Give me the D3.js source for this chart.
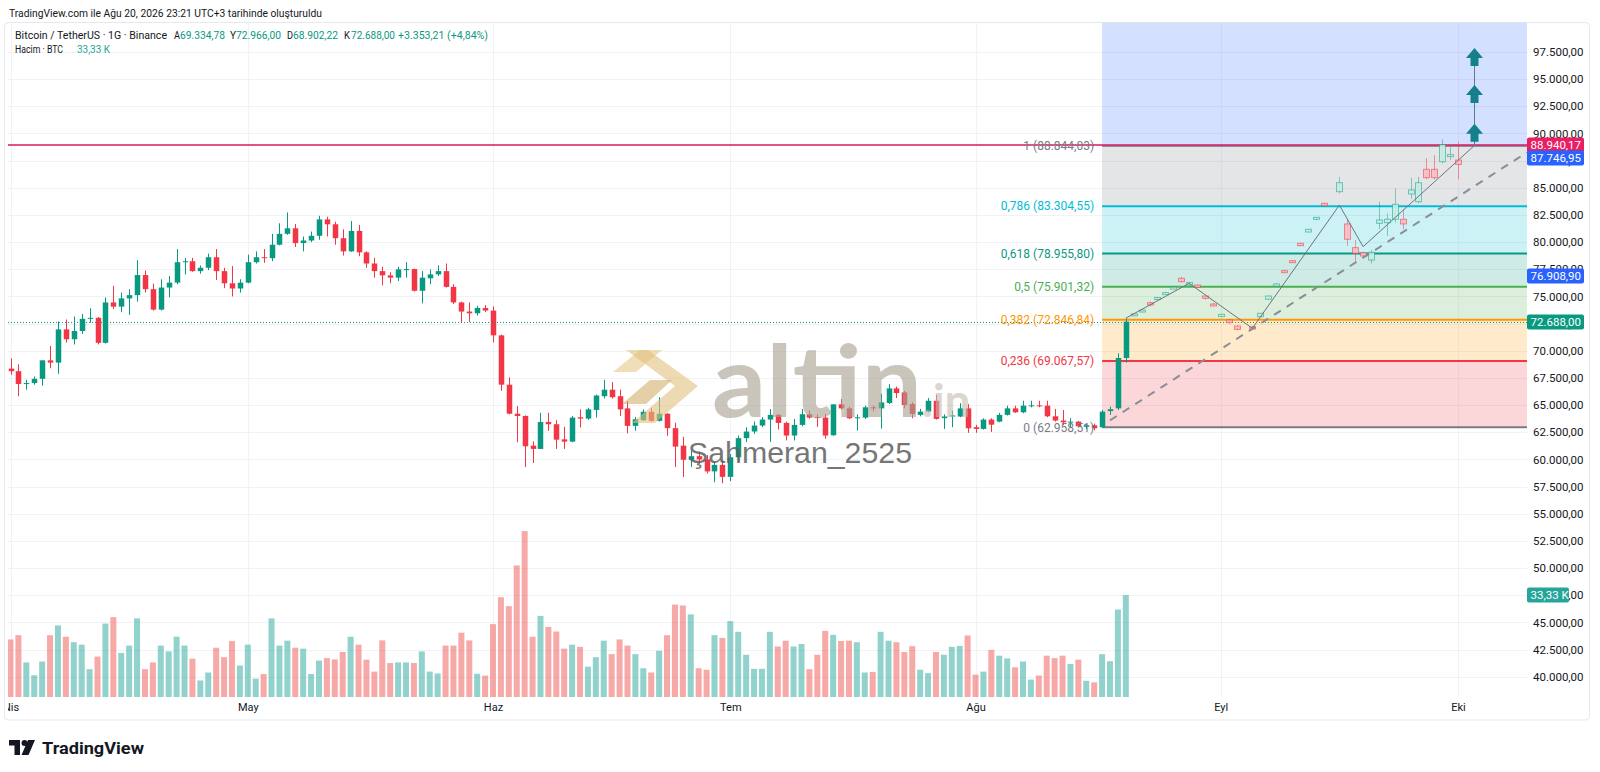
<!DOCTYPE html>
<html>
<head>
<meta charset="utf-8">
<script src="https://cdn.jsdelivr.net/npm/d3@7"></script>
<style>
  body { margin: 0; background: #fff; }
  svg { display: block; font-family: Roboto, "Liberation Sans", sans-serif; }
</style>
</head>
<body>
<svg id="root" width="1600" height="772"></svg>
<script>
// BTC/USDT daily, first candle 1 Nisan 2026 -> [open, high, low, close]
const firstDay = "2026-04-01";
const ohlc = [
  [68360, 69300, 67790, 68120], [68120, 68760, 65820, 66940], [66940, 67330, 66420, 67030], [67030, 67640, 66880, 67420],
  [67420, 69120, 66790, 69120], [69120, 70450, 68390, 68910], [68910, 72700, 67880, 71970], [71970, 72880, 70760, 71060],
  [71060, 73150, 70580, 71820], [71820, 73390, 71550, 72940], [72940, 73910, 72580, 73030], [73030, 73100, 70580, 70730],
  [70730, 74910, 70670, 74450], [74450, 75970, 73850, 74060], [74060, 75360, 73550, 74820], [74820, 75670, 73300, 75120],
  [75120, 78330, 74520, 76970], [76970, 77390, 75360, 75670], [75670, 76180, 73700, 73790], [73790, 76580, 73700, 75820],
  [75820, 76880, 74910, 76270], [76270, 79360, 76120, 78150], [78150, 78550, 77030, 78240], [78240, 78550, 77270, 77330],
  [77330, 77850, 77090, 77640], [77640, 78940, 77420, 78610], [78610, 79360, 76520, 77330], [77330, 77640, 75760, 76210],
  [76210, 77790, 75000, 75730], [75730, 76580, 75360, 76270], [76270, 78850, 76210, 78150], [78150, 79150, 78030, 78610],
  [78610, 79360, 78090, 78520], [78520, 80760, 78240, 79760], [79760, 81730, 79700, 80760], [80760, 82730, 80670, 81270],
  [81270, 81670, 79550, 79910], [79910, 80520, 79150, 80150], [80150, 80970, 80000, 80580], [80580, 82420, 80210, 82090],
  [82090, 82330, 80520, 81640], [81640, 81880, 79760, 80360], [80360, 81180, 78760, 79150], [79150, 81940, 79100, 81030],
  [81030, 81580, 78700, 79060], [79060, 79150, 77640, 78030], [78030, 78550, 76730, 77330], [77330, 77730, 76030, 76940],
  [76940, 77240, 76210, 76730], [76730, 77730, 76420, 77490], [77420, 78150, 76730, 77520], [77520, 77560, 75450, 75520],
  [75520, 77330, 74360, 76730], [76670, 77490, 76120, 77030], [77030, 77850, 76880, 77330], [77330, 78030, 75820, 75880],
  [75880, 76120, 74300, 74450], [74450, 74520, 72640, 73610], [73610, 74450, 72640, 73450], [73450, 74150, 73240, 73940],
  [73940, 74210, 73550, 73700], [73700, 74090, 70760, 71420], [71420, 71500, 66330, 66880], [66880, 67550, 64150, 64210],
  [64210, 64910, 61580, 64000], [64000, 64060, 59300, 61210], [61270, 61670, 59670, 60970], [60970, 64300, 60970, 63450],
  [63450, 64300, 62640, 63240], [63240, 63610, 60970, 61820], [61850, 63000, 60970, 61640], [61640, 64000, 61580, 63850],
  [63880, 64610, 62940, 63760], [63760, 64760, 63640, 64610], [64550, 65970, 63850, 65880], [65820, 67330, 65610, 66420],
  [66420, 67120, 65610, 65730], [65820, 66420, 64000, 64610], [64700, 65360, 62390, 63090], [63090, 63910, 62640, 63700],
  [63610, 64610, 63550, 64390], [64390, 64760, 63490, 63550], [63550, 65730, 63490, 64210], [64210, 64260, 62180, 62880],
  [62880, 63390, 59300, 61180], [61270, 62090, 58390, 59970], [59970, 60800, 59300, 60300], [60300, 60700, 59600, 60000],
  [60000, 60400, 58700, 58900], [58900, 59800, 57900, 59500], [59500, 59900, 57800, 58400], [58400, 60500, 58000, 60200],
  [60200, 62200, 59800, 61960], [61960, 62970, 61600, 62570], [62570, 63500, 62350, 63120], [63120, 63900, 62970, 63670],
  [63670, 64630, 61620, 64100], [64100, 64200, 62750, 63360], [63360, 63480, 61750, 62200], [62200, 63720, 61750, 63180],
  [63180, 64640, 63050, 64160], [64160, 64490, 63750, 63850], [63900, 64150, 63000, 63820], [63850, 64190, 61900, 62200],
  [62230, 65070, 62170, 65070], [65070, 65560, 64580, 64700], [64700, 64850, 63730, 63790], [63790, 64150, 62660, 63880],
  [63850, 64950, 63730, 64800], [64800, 64950, 64420, 64700], [64700, 66050, 62840, 65250], [65200, 66930, 65100, 66540],
  [66540, 66720, 65650, 66110], [66170, 66320, 64710, 65010], [65100, 65250, 63790, 64190], [64100, 64650, 63970, 64400],
  [64400, 65650, 64340, 65400], [65400, 65950, 63670, 63730], [63800, 64150, 62810, 63950], [63950, 64500, 62970, 64050],
  [63950, 65180, 63880, 64700], [64700, 65090, 62450, 62870], [62970, 63180, 62450, 62810], [62810, 63790, 62750, 63670],
  [63670, 63790, 62530, 63200], [63480, 64280, 63420, 64100], [64100, 64950, 64040, 64700], [64700, 64950, 64280, 64340],
  [64340, 65400, 64250, 64950], [64950, 65400, 64790, 64980], [64980, 65400, 64800, 64950], [64950, 65400, 63880, 63970],
  [63970, 64650, 63490, 63580], [63580, 64550, 63180, 63420], [63420, 63790, 62970, 63480], [63480, 63550, 62970, 63060],
  [63000, 63300, 62800, 63150], [63150, 63300, 62700, 62870], [62960, 64550, 62900, 64400], [64450, 64860, 64100, 64620],
  [64700, 69770, 64550, 69334.79], [69334.78, 72966.00, 68902.22, 72688.00]
];

// volume, thousands of BTC
const volumes = [
  18.8, 20.2, 11.3, 7.1, 11.6, 20.2, 23.4, 19.7, 17.9, 17.1, 9.1, 13.2, 24.0, 26.1, 14.4, 16.8, 25.7, 9.1, 11.3, 16.8,
  14.9, 19.7, 16.8, 12.5, 5.4, 8.0, 16.1, 13.0, 18.3, 10.3, 17.1, 6.0, 7.5, 25.7, 16.8, 18.4, 16.1, 15.8, 7.5, 11.9,
  12.7, 12.3, 14.7, 19.7, 17.1, 12.2, 8.3, 18.5, 11.1, 11.3, 11.3, 11.1, 14.9, 8.3, 7.7, 16.8, 16.8, 21.0, 18.5, 7.6,
  7.0, 23.8, 32.6, 29.7, 43.0, 54.2, 19.7, 26.5, 22.9, 21.4, 15.8, 17.1, 16.4, 9.9, 13.0, 18.4, 14.0, 18.8, 16.8, 14.0,
  9.4, 8.0, 15.1, 20.2, 30.2, 29.9, 27.0, 9.4, 8.9, 20.2, 19.3, 24.8, 21.3, 13.8, 9.2, 9.2, 21.3, 16.5, 18.4, 16.5,
  17.3, 9.1, 13.8, 21.6, 20.3, 18.3, 18.4, 17.9, 8.0, 8.2, 21.3, 18.4, 17.9, 14.7, 16.6, 8.9, 7.8, 14.7, 13.8, 16.4,
  16.7, 20.1, 7.3, 8.3, 15.4, 13.5, 12.6, 9.7, 11.6, 5.7, 7.0, 13.5, 12.7, 13.5, 10.8, 12.2, 5.3, 4.8, 14.0, 11.7,
  28.6, 33.33
];

// fibonacci retracement drawn from 17 Aug
const fibStart = "2026-08-17";
const fibLevels = [0, 0.236, 0.382, 0.5, 0.618, 0.786, 1];
const fibPrices = [62958.51, 69067.57, 72846.84, 75901.32, 78955.80, 83304.55, 88844.03];

// projected (ghost) candles, one per day from 21 Aug, null = no candle
const ghostStart = "2026-08-21";
const ghostOhlc = [
  [73300, 73450, 73250, 73400], [73600, 73800, 73550, 73750], [74430, 74530, 74100, 74210], [74800, 74950, 74700, 74900],
  [75250, 75400, 75200, 75350], [75800, 75900, 75700, 75850], [76670, 76800, 76300, 76360], [76050, 76300, 76000, 76280],
  [76050, 76100, 75800, 75840], [75040, 75100, 74700, 74830], [74300, 74400, 74150, 74200], [73150, 73400, 73100, 73350],
  [72830, 72900, 72500, 72590], [72280, 72350, 71900, 71970], null, [72200, 72300, 71950, 72000],
  [73140, 73450, 73100, 73450], [74740, 75060, 74700, 75040], [75950, 76200, 75900, 76150], [77370, 77450, 77150, 77220],
  [78290, 78350, 78100, 78140], [79890, 79950, 79650, 79670], [80930, 81200, 80900, 81180], [82100, 82300, 82000, 82280],
  [83570, 83600, 83300, 83350], null, [84640, 86000, 84490, 85470], [81670, 82040, 79660, 80260],
  [79490, 80200, 78230, 78970], [79030, 79100, 78600, 78720], [78350, 79280, 78030, 79060], [81730, 83720, 81210, 82040],
  [81790, 82650, 80560, 82100], [82100, 84950, 81790, 83480], [82100, 83020, 81180, 81670], [84430, 85920, 83990, 84800],
  [83720, 86000, 83570, 85470], [86700, 87740, 85780, 85930], [86700, 88000, 85780, 85930], [87400, 89460, 87250, 88970],
  [88000, 88780, 87550, 88050], [87550, 89230, 85780, 87150]
];

const zigDates = ["2026-08-20", "2026-08-28", "2026-09-05", "2026-09-16", "2026-09-19", "2026-10-03"];
const zigPrices = [73000, 76200, 72070, 83400, 79580, 88844.03];
const trendDates = ["2026-08-18", "2026-10-05"];
const trendPrices = [63600, 86050];
const arrowDate = "2026-10-03";
const arrowPrices = [89240, 92800, 96200];

const hLinePrice = 88940.17;
const badgeValues = [88940.17, 87746.95, 76908.90, 72688.00];
const priceTicks = [40000, 42500, 45000, 47500, 50000, 52500, 55000, 57500, 60000, 62500, 65000, 67500,
  70000, 72500, 75000, 77500, 80000, 82500, 85000, 87500, 90000, 92500, 95000, 97500];
const monthTicks = ["2026-04-01", "2026-05-01", "2026-06-01", "2026-07-01", "2026-08-01", "2026-09-01", "2026-10-01"];
const monthLabels = ["Nis", "May", "Haz", "Tem", "Ağu", "Eyl", "Eki"];

const main = () => {
    const svg = d3.select("#root");
    const parseDay = d3.utcParse("%Y-%m-%d");
    const tr = d3.formatLocale({ decimal: ",", thousands: ".", grouping: [3], currency: ["", ""] });
    const fmt = tr.format(",.2f");

    const green = "#089981", red = "#f23645", dark = "#131722";
    const pane = { left: 8, right: 1527, top: 22.5, bottom: 697 };

    const x = d3.scaleUtc()
        .domain([parseDay("2026-04-01"), parseDay("2026-10-01")])
        .range([10.5, 10.5 + 183 * 7.91]);
    const y = d3.scaleLinear().domain([fibPrices[0], fibPrices[6]]).range([427.3, 146]);
    const vy = d3.scaleLinear().domain([0, 33.33]).range([pane.bottom, 595]);

    const start = parseDay(firstDay);
    const candles = ohlc.map((d, i) => ({
        date: d3.utcDay.offset(start, i), o: d[0], h: d[1], l: d[2], c: d[3], v: volumes[i],
    }));

    const defs = svg.append("defs");
    defs.append("clipPath").attr("id", "paneClip").append("rect")
        .attr("x", pane.left).attr("y", pane.top)
        .attr("width", pane.right - pane.left).attr("height", pane.bottom - pane.top);
    defs.append("clipPath").attr("id", "timeClip").append("rect")
        .attr("x", pane.left).attr("y", pane.bottom).attr("width", pane.right - pane.left).attr("height", 25);

    // frame
    svg.append("rect").attr("x", 4.5).attr("y", pane.top).attr("width", 1585).attr("height", 697.5)
        .attr("rx", 4).attr("fill", "none").attr("stroke", "#e6e8ee");

    const plot = svg.append("g").attr("clip-path", "url(#paneClip)");

    // grid
    plot.append("g").selectAll("line").data(priceTicks).join("line")
        .attr("x1", pane.left).attr("x2", pane.right)
        .attr("y1", (d) => Math.round(y(d)) + 0.5).attr("y2", (d) => Math.round(y(d)) + 0.5)
        .attr("stroke", "#f0f2f6");
    plot.append("g").selectAll("line").data(monthTicks.map(parseDay)).join("line")
        .attr("x1", (d) => Math.round(x(d)) + 0.5).attr("x2", (d) => Math.round(x(d)) + 0.5)
        .attr("y1", pane.top).attr("y2", pane.bottom)
        .attr("stroke", "#f0f2f6");

    // fib fills
    const fx0 = x(parseDay(fibStart));
    const fillCols = ["rgba(242,54,69,0.2)", "rgba(255,152,0,0.2)", "rgba(76,175,80,0.2)",
        "rgba(8,153,129,0.2)", "rgba(0,188,212,0.2)", "rgba(120,123,134,0.2)"];
    const lineCols = ["#787b86", "#f23645", "#ff9800", "#4caf50", "#089981", "#00bcd4", "#787b86"];
    const fib = plot.append("g");
    fib.selectAll("rect.band").data(d3.range(6)).join("rect").attr("class", "band")
        .attr("x", fx0).attr("width", pane.right - fx0)
        .attr("y", (i) => y(fibPrices[i + 1])).attr("height", (i) => y(fibPrices[i]) - y(fibPrices[i + 1]))
        .attr("fill", (i) => fillCols[i]);
    fib.append("rect").attr("x", fx0).attr("width", pane.right - fx0)
        .attr("y", pane.top).attr("height", y(fibPrices[6]) - pane.top)
        .attr("fill", "rgba(41,98,255,0.2)");

    // volume
    plot.append("g").selectAll("rect").data(candles).join("rect")
        .attr("x", (d) => x(d.date) - 3).attr("width", 6)
        .attr("y", (d) => vy(d.v)).attr("height", (d) => vy(0) - vy(d.v))
        .attr("fill", (d) => (d.c >= d.o ? "#26a69a" : "#ef5350"))
        .attr("fill-opacity", 0.5);

    // horizontal line
    plot.append("line").attr("x1", pane.left).attr("x2", pane.right)
        .attr("y1", y(hLinePrice)).attr("y2", y(hLinePrice))
        .attr("stroke", "#d81b60").attr("stroke-width", 1.5);

    // fib lines
    fib.selectAll("line").data(fibPrices).join("line")
        .attr("x1", fx0).attr("x2", pane.right)
        .attr("y1", (d) => y(d)).attr("y2", (d) => y(d))
        .attr("stroke", (d, i) => lineCols[i]).attr("stroke-width", 2)
        .attr("stroke-opacity", (d, i) => (i === 6 ? 0.8 : 1));

    // candles
    const cg = plot.append("g").selectAll("g").data(candles).join("g")
        .attr("stroke", (d) => (d.c >= d.o ? green : red))
        .attr("fill", (d) => (d.c >= d.o ? green : red));
    cg.append("line")
        .attr("x1", (d) => Math.round(x(d.date)) + 0.5).attr("x2", (d) => Math.round(x(d.date)) + 0.5)
        .attr("y1", (d) => y(d.h)).attr("y2", (d) => y(d.l));
    cg.append("rect").attr("stroke", "none")
        .attr("x", (d) => Math.round(x(d.date)) - 2.25).attr("width", 5.5)
        .attr("y", (d) => y(Math.max(d.o, d.c)))
        .attr("height", (d) => Math.max(1, Math.abs(y(d.o) - y(d.c))));

    // last price dotted line
    const last = candles[candles.length - 1];
    plot.append("line").attr("x1", pane.left).attr("x2", pane.right)
        .attr("y1", Math.round(y(last.c)) + 0.5).attr("y2", Math.round(y(last.c)) + 0.5)
        .attr("stroke", green).attr("stroke-dasharray", "1,2");

    // ghost candles
    const gStart = parseDay(ghostStart);
    const ghosts = ghostOhlc.map((d, i) => d && ({
        date: d3.utcDay.offset(gStart, i), o: d[0], h: d[1], l: d[2], c: d[3],
    })).filter(Boolean);
    const gg = plot.append("g").selectAll("g").data(ghosts).join("g");
    gg.append("line")
        .attr("x1", (d) => Math.round(x(d.date)) + 0.5).attr("x2", (d) => Math.round(x(d.date)) + 0.5)
        .attr("y1", (d) => y(d.h)).attr("y2", (d) => y(d.l))
        .attr("stroke", (d) => (d.c >= d.o ? "rgba(8,153,129,0.45)" : "rgba(242,54,69,0.5)"));
    gg.append("rect")
        .attr("x", (d) => Math.round(x(d.date)) - 2.5).attr("width", 6)
        .attr("y", (d) => y(Math.max(d.o, d.c)))
        .attr("height", (d) => Math.max(2, Math.abs(y(d.o) - y(d.c))))
        .attr("fill", (d) => (d.c >= d.o ? "rgba(200,236,228,0.9)" : "rgba(248,190,196,0.9)"))
        .attr("stroke", (d) => (d.c >= d.o ? "rgba(8,153,129,0.5)" : "rgba(242,54,69,0.55)"));

    // zigzag path
    plot.append("path")
        .datum(zigDates.map((d, i) => [x(parseDay(d)), y(zigPrices[i])]))
        .attr("d", d3.line())
        .attr("fill", "none").attr("stroke", "#6e7280").attr("stroke-width", 1);

    // dashed trend line, extended to the right edge
    const t0 = [x(parseDay(trendDates[0])), y(trendPrices[0])];
    const t1 = [x(parseDay(trendDates[1])), y(trendPrices[1])];
    const slope = (t1[1] - t0[1]) / (t1[0] - t0[0]);
    plot.append("line")
        .attr("x1", t0[0]).attr("y1", t0[1])
        .attr("x2", pane.right).attr("y2", t0[1] + slope * (pane.right - t0[0]))
        .attr("stroke", "#8a8d96").attr("stroke-width", 2).attr("stroke-dasharray", "8,7");

    // arrows
    const ax = Math.round(x(parseDay(arrowDate))) + 0.5;
    plot.append("line").attr("x1", ax).attr("x2", ax)
        .attr("y1", y(fibPrices[6])).attr("y2", y(arrowPrices[2]) - 10)
        .attr("stroke", "#5b7f8a").attr("stroke-width", 1);
    plot.append("g").selectAll("path").data(arrowPrices).join("path")
        .attr("d", (p) => {
            const b = y(p);
            return `M${ax - 4},${b}V${b - 8}H${ax - 8.5}L${ax},${b - 18}L${ax + 8.5},${b - 8}H${ax + 4}V${b}Z`;
        })
        .attr("fill", "#14808c");

    // fib labels
    svg.append("g").selectAll("text").data(fibPrices).join("text")
        .attr("x", fx0 - 8).attr("y", (d) => y(d)).attr("dy", "0.35em")
        .attr("text-anchor", "end").attr("font-size", 12)
        .attr("fill", (d, i) => lineCols[i])
        .text((d, i) => `${String(fibLevels[i]).replace(".", ",")} (${fmt(d)})`);

    // watermark
    const wm = svg.append("g");
    wm.append("path").attr("d", "M648,350L698,386L655,423L632,423L675,386L626,350Z")
        .attr("fill", "#e2c27e").attr("opacity", 0.6);
    wm.append("path").attr("d", "M613,372L640,350L662,350L636,372Z")
        .attr("fill", "#e2c27e").attr("opacity", 0.55);
    wm.append("path").attr("d", "M622,404L650,380L672,380L646,404Z")
        .attr("fill", "#cfa85e").attr("opacity", 0.55);
    wm.append("text").attr("x", 712).attr("y", 417)
        .attr("font-family", "Lato, Roboto, sans-serif").attr("font-weight", 700).attr("font-size", 100)
        .attr("textLength", 210).attr("lengthAdjust", "spacingAndGlyphs")
        .attr("fill", "#aaa293").attr("opacity", 0.62).text("altin");
    wm.append("text").attr("x", 922).attr("y", 417)
        .attr("font-family", "Lato, Roboto, sans-serif").attr("font-weight", 700).attr("font-size", 46)
        .attr("fill", "#c4bcae").attr("opacity", 0.6).text(".in");
    wm.append("text").attr("x", 688).attr("y", 463)
        .attr("font-family", "'Liberation Sans', Arial, sans-serif").attr("font-size", 30)
        .attr("textLength", 224).attr("lengthAdjust", "spacingAndGlyphs")
        .attr("fill", "#5f5f5f").attr("opacity", 0.85).text("Şahmeran_2525");

    // price axis
    svg.append("g").attr("transform", `translate(${pane.right},0)`)
        .call(d3.axisRight(y).tickValues(priceTicks).tickFormat(fmt).tickSize(0).tickPadding(6))
        .call((g) => g.select(".domain").remove())
        .call((g) => g.attr("font-family", null).attr("font-size", 11.5))
        .call((g) => g.selectAll("text").attr("fill", dark));

    // time axis (clipped to the pane width so "Nis" is cut like the original)
    svg.append("g").attr("clip-path", "url(#timeClip)")
        .append("g").attr("transform", `translate(0,${pane.bottom})`)
        .call(d3.axisBottom(x).tickValues(monthTicks.map(parseDay))
            .tickFormat((d, i) => monthLabels[i]).tickSize(0).tickPadding(6))
        .call((g) => g.select(".domain").remove())
        .call((g) => g.attr("font-family", null).attr("font-size", 11))
        .call((g) => g.selectAll("text").attr("fill", dark));

    // axis badges
    const badgeCols = ["#e91e63", "#2962ff", "#2962ff", green];
    const badges = svg.append("g").selectAll("g").data(badgeValues).join("g")
        .attr("transform", (d) => `translate(${pane.right},${Math.round(y(d))})`);
    badges.append("rect").attr("x", 0).attr("y", -7.5).attr("width", 57).attr("height", 15)
        .attr("rx", 2).attr("fill", (d, i) => badgeCols[i]);
    badges.append("text").attr("x", 3.5).attr("dy", "0.35em").attr("font-size", 11.5)
        .attr("fill", "#fff").text((d) => fmt(d));
    const vb = svg.append("g").attr("transform", `translate(${pane.right},${Math.round(vy(last.v))})`);
    vb.append("rect").attr("y", -7.5).attr("width", 42).attr("height", 15).attr("rx", 2).attr("fill", "#26a69a");
    vb.append("text").attr("x", 3.5).attr("dy", "0.35em").attr("font-size", 11.5).attr("fill", "#fff")
        .text(`${tr.format(",.2f")(last.v)} K`);

    // header
    const hd = svg.append("g").attr("font-size", 11);
    const seg = (txt, px, py, w, col) => hd.append("text").attr("x", px).attr("y", py)
        .attr("textLength", w).attr("lengthAdjust", "spacingAndGlyphs").attr("fill", col).text(txt);
    seg("TradingView.com ile Ağu 20, 2026 23:21 UTC+3 tarihinde oluşturuldu", 9, 17, 313, dark);
    const prev = candles[candles.length - 2];
    const chg = last.c - prev.c;
    const hcol = last.c >= last.o ? green : red;
    seg("Bitcoin / TetherUS · 1G · Binance", 15, 39, 152, dark);
    seg("A", 174, 39, 6, dark); seg(fmt(last.o), 180, 39, 45, hcol);
    seg("Y", 230, 39, 6, dark); seg(fmt(last.h), 236, 39, 45, hcol);
    seg("D", 287, 39, 6, dark); seg(fmt(last.l), 293, 39, 45, hcol);
    seg("K", 344, 39, 6, dark); seg(fmt(last.c), 351, 39, 44, hcol);
    seg(`+${fmt(chg)} (+${tr.format(",.2f")(chg / prev.c * 100)}%)`, 398, 39, 90, hcol);
    seg("Hacim · BTC", 15, 53, 48, dark);
    seg(`${tr.format(",.2f")(last.v)} K`, 77, 53, 33, "#26a69a");

    // TradingView logo
    const lg = svg.append("g").attr("fill", dark);
    lg.append("path").attr("d", "M9,740H20V755H14.5V745.5H9Z");
    lg.append("circle").attr("cx", 24.5).attr("cy", 743).attr("r", 3);
    lg.append("path").attr("d", "M28,740H35L28.5,755H21.5Z");
    lg.append("text").attr("x", 42).attr("y", 754).attr("font-size", 17).attr("font-weight", 700)
        .attr("textLength", 102).attr("lengthAdjust", "spacingAndGlyphs").text("TradingView");
};

main();
</script>
</body>
</html>
